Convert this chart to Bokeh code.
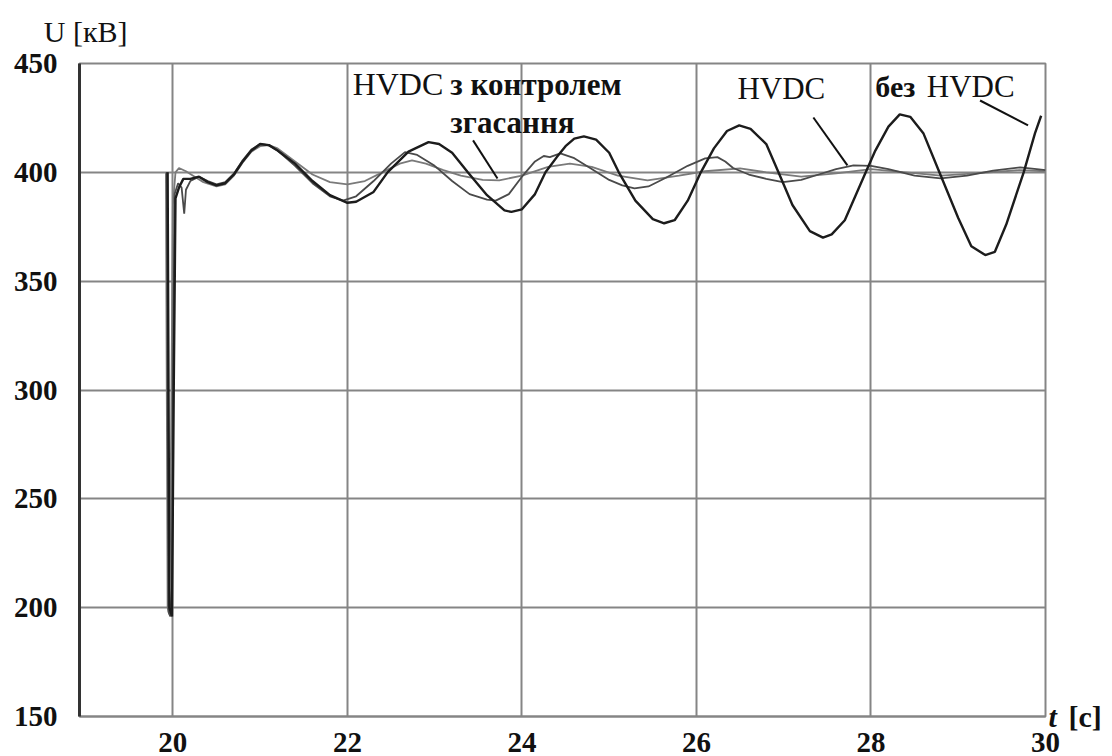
from bokeh.plotting import figure
from bokeh.models import Range1d, FixedTicker, Label, LinearAxis
from bokeh.embed import file_html
from bokeh.resources import INLINE

# ---- data ----
x_ticks = [20, 22, 24, 26, 28, 30]
y_ticks = [150, 200, 250, 300, 350, 400, 450]

# без HVDC (no HVDC)
t_no = [19.94, 19.95, 19.96, 19.99, 20.01, 20.03, 20.07, 20.12, 20.2, 20.3, 20.4, 20.5, 20.6,
        20.7, 20.8, 20.9, 21.0, 21.1, 21.2, 21.4, 21.6, 21.8, 22.0, 22.1, 22.3, 22.46, 22.7, 22.93,
        23.05, 23.2, 23.38, 23.6, 23.8, 23.88, 24.0, 24.15, 24.27, 24.4, 24.5, 24.6, 24.71, 24.85,
        25.0, 25.11, 25.3, 25.5, 25.63, 25.75, 25.9, 26.05, 26.2, 26.35, 26.49, 26.62, 26.8, 26.94,
        27.1, 27.3, 27.45, 27.55, 27.7, 27.94, 28.05, 28.2, 28.33, 28.45, 28.6, 28.79, 29.0, 29.15,
        29.31, 29.42, 29.55, 29.75, 29.88, 29.95]
u_no = [400, 300, 200, 196, 300, 388, 393, 397, 397, 398, 395.5, 394, 395,
        399, 405, 410, 413, 412.5, 410, 404, 396, 389.5, 386, 386.5, 391, 400, 409.5, 413.9,
        413, 409, 400, 389.5, 382.5, 381.8, 383, 390, 400, 407, 412, 415.5, 416.5, 415,
        409, 400, 387, 378.5, 376.6, 378, 387, 400, 411, 419, 421.6, 420, 413, 400,
        385, 373, 370, 371.5, 378, 400, 410, 421, 426.6, 425.5, 418, 399.5, 379, 366,
        362, 363.5, 376, 400, 418, 426]

# HVDC
t_hv = [19.93, 19.94, 19.95, 19.97, 19.99, 20.0, 20.02, 20.06, 20.1, 20.13, 20.15, 20.2, 20.3,
        20.4, 20.5, 20.6, 20.7, 20.8, 20.9, 21.0, 21.1, 21.2, 21.4, 21.6, 21.8, 21.95, 22.1, 22.3,
        22.5, 22.66, 22.8, 23.0, 23.2, 23.4, 23.6, 23.7, 23.85, 24.0, 24.15, 24.25, 24.32, 24.44,
        24.6, 24.8, 25.0, 25.15, 25.29, 25.45, 25.65, 25.9, 26.1, 26.24, 26.33, 26.42, 26.6, 26.8,
        26.99, 27.2, 27.4, 27.6, 27.8, 28.0, 28.2, 28.5, 28.8, 29.1, 29.4, 29.71, 29.9, 30.0]
u_hv = [400, 300, 198, 196, 210, 300, 390, 395, 393, 381, 392, 396, 398,
        396, 394.5, 395.5, 399.5, 405.5, 410.5, 413, 412.5, 410, 403, 395, 389, 387, 389, 396,
        404, 409.3, 408, 403, 396, 390, 387.5, 387, 390, 398, 405, 407.5, 407, 408.7,
        406.5, 401.5, 396.5, 394, 392.6, 393.5, 397.5, 403, 406.4, 407, 405, 402, 399, 397,
        395.5, 396.5, 399, 401.5, 403.2, 403, 401.5, 398.5, 397.2, 398.5, 400.8, 402.3, 401.5, 401]

# HVDC з контролем згасання (with damping control)
t_dc = [19.92, 19.93, 19.94, 19.96, 19.98, 20.0, 20.03, 20.07, 20.15, 20.25, 20.35, 20.5, 20.6,
        20.7, 20.8, 20.9, 21.0, 21.1, 21.2, 21.4, 21.6, 21.8, 22.0, 22.2, 22.4, 22.6, 22.74, 22.9,
        23.1, 23.3, 23.55, 23.74, 24.0, 24.3, 24.55, 24.8, 25.1, 25.44, 25.8, 26.1, 26.5, 26.8,
        27.2, 27.6, 28.0, 28.4, 28.8, 29.2, 29.7, 30.0]
u_dc = [400, 300, 200, 197, 280, 385, 400, 402, 400.5, 398, 395.5, 393.5, 394.5,
        398.5, 404.5, 409.5, 412, 412.5, 411, 405, 399, 395.5, 394.5, 396, 400, 404, 405.5, 404,
        401, 398.5, 396.5, 396.3, 398.5, 402.5, 404, 402.5, 398.5, 396.3, 398.5, 400.5, 401.8, 400,
        398, 399.5, 401.5, 400, 398.5, 399.5, 401, 400.5]

# annotation texts, anchors and leader lines
ann_text = ["HVDC", "з контролем", "згасання", "HVDC", "без", "HVDC"]
ann_bold = [False, True, True, False, True, False]
ann_size = ["32px", "31px", "31px", "31px", "30px", "31px"]
ann_x = [22.06, 23.18, 23.18, 26.47, 28.05, 28.64]
ann_y = [440.4, 440.4, 422.9, 438.3, 439.6, 439.6]
lead_x0 = [23.44, 27.34, 29.25]
lead_y0 = [414.7, 425.2, 433.0]
lead_x1 = [23.72, 27.73, 29.80]
lead_y1 = [397.2, 403.2, 421.6]

# axis titles
y_title = "U [кВ]"
y_title_at = 19
x_title_t = "t"
x_title_unit = "[с]"
x_title_at = 150

FONT = "Liberation Serif"
GRID = "#858585"

p = figure(width=1112, height=756, x_range=Range1d(18.93, 30), y_range=Range1d(150, 450),
           output_backend="svg", toolbar_location=None,
           min_border_left=79, min_border_right=67, min_border_top=63, min_border_bottom=40)
p.background_fill_color = "white"
p.border_fill_color = "white"
p.outline_line_color = GRID
p.outline_line_width = 2

p.xaxis.ticker = FixedTicker(ticks=x_ticks)
p.yaxis.ticker = FixedTicker(ticks=y_ticks)
for ax in (p.xaxis[0], p.yaxis[0]):
    ax.major_tick_out = 0
    ax.major_tick_in = 0
    ax.minor_tick_out = 0
    ax.minor_tick_in = 0
    ax.major_label_text_font = FONT
    ax.major_label_text_font_style = "bold"
    ax.major_label_text_font_size = "29px"
    ax.major_label_text_color = "#111111"
p.yaxis.major_label_standoff = 22
p.xaxis.major_label_standoff = 16
p.yaxis.axis_line_color = "#333333"
p.yaxis.axis_line_width = 3
p.xaxis.axis_line_color = GRID
p.xaxis.axis_line_width = 2


def title_axis(ticks, overrides, standoff, size, style):
    a = LinearAxis(ticker=FixedTicker(ticks=ticks), major_label_overrides=overrides,
                   axis_line_color=None, major_tick_out=0, major_tick_in=0,
                   minor_tick_out=0, minor_tick_in=0, major_label_standoff=standoff,
                   major_label_text_font=FONT, major_label_text_font_size=size,
                   major_label_text_font_style=style, major_label_text_color="#111111")
    return a


p.add_layout(title_axis([y_title_at], {y_title_at: y_title}, 16, "30px", "normal"), "above")
p.add_layout(title_axis([x_title_at], {x_title_at: x_title_t}, 3, "30px", "bold italic"), "right")
p.add_layout(title_axis([x_title_at], {x_title_at: x_title_unit}, 9, "30px", "bold"), "right")

p.xgrid.ticker = FixedTicker(ticks=x_ticks)
p.ygrid.ticker = FixedTicker(ticks=y_ticks)
p.grid.grid_line_color = GRID
p.grid.grid_line_width = 2

p.line(t_dc, u_dc, line_color="#7a7a7a", line_width=1.8)
p.line(t_hv, u_hv, line_color="#4a4a4a", line_width=1.8)
p.line(t_no, u_no, line_color="#1c1c1c", line_width=2.4)

p.segment(x0=lead_x0, y0=lead_y0, x1=lead_x1, y1=lead_y1, line_color="#111111", line_width=2)

for txt, b, s, x, y in zip(ann_text, ann_bold, ann_size, ann_x, ann_y):
    p.add_layout(Label(x=x, y=y, text=txt, text_font=FONT, text_font_size=s,
                       text_font_style="bold" if b else "normal", text_color="#111111",
                       text_baseline="alphabetic", text_align="left"))

open("out.html", "w").write(file_html(p, INLINE))
